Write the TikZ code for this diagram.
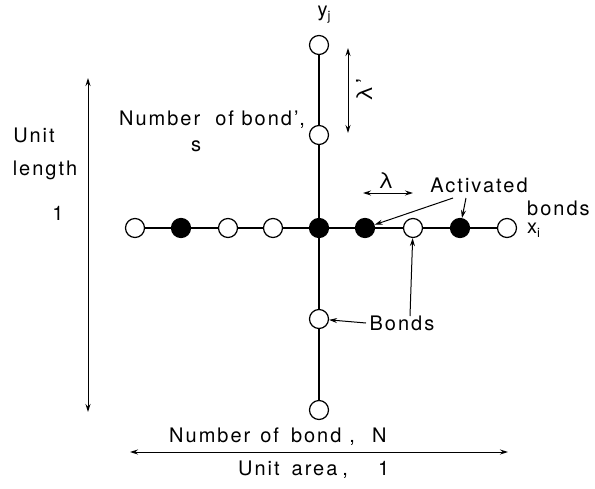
\documentclass[tikz,border=0pt]{standalone}
\usepackage{fontspec}
\setmainfont{TeX Gyre Heros}[LetterSpace=10]
\usetikzlibrary{arrows.meta}
\begin{document}
\begin{tikzpicture}[x=1pt,y=-1pt,
  site/.style={circle,draw,line width=1.2pt,minimum size=19pt,inner sep=0pt,fill=white},
  act/.style={site,fill=black},
  bond/.style={line width=1.2pt},
  arr/.style={line width=1pt,-{Stealth[length=8pt,width=5pt]}},
  darr/.style={line width=1pt,{Stealth[length=8pt,width=5pt]}-{Stealth[length=8pt,width=5pt]}},
  lab/.style={font=\fontsize{20}{22}\selectfont,inner sep=0pt},
  glab/.style={font=\fontsize{22}{24}\selectfont,inner sep=0pt}]
\useasboundingbox (0,0) rectangle (595,488);
% vertical chain
\node[site] (v1) at (319,45) {};
\node[site] (v2) at (319,135) {};
\node[site] (v4) at (319,319) {};
\node[site] (v5) at (319,410) {};
% horizontal chain
\node[site] (h1) at (135,228) {};
\node[act]  (h2) at (181,228) {};
\node[site] (h3) at (228,228) {};
\node[site] (h4) at (273,228) {};
\node[act]  (c)  at (319,228) {};
\node[act]  (h6) at (365,228) {};
\node[site] (h7) at (413,228) {};
\node[act]  (h8) at (460,228) {};
\node[site] (h9) at (507,228) {};
\draw[bond] (v1) -- (v2) -- (c) -- (v4) -- (v5);
\draw[bond] (h1) -- (h2) -- (h3) -- (h4) -- (c) -- (h6) -- (h7) -- (h8) -- (h9);
% labels
\node[lab] (yj) at (324,15) {y{\fontsize{13}{14}\selectfont\raisebox{-4pt}{j}}};
\node[lab,anchor=west] (xi) at (527,230) {x{\fontsize{13}{14}\selectfont\raisebox{-4pt}{i}}};
\node[lab,anchor=west] (bonds) at (527,208) {bonds};
\node[lab] (act) at (479,185) {Activated};
\node[lab] (bl) at (402,323) {Bonds};
\node[lab] (nbs) at (212,120) {Number\ \ of\ bond',};
\node[lab] (s) at (196,146) {s};
\node[lab] (unit) at (34,135) {Unit};
\node[lab] (len) at (45,170) {length};
\node[lab] (one) at (58,213) {1};
\node[lab,anchor=west] (nbn) at (169,437) {Number\hspace{10pt}of\hspace{12pt}bond\hspace{8pt},\hspace{17pt}N};
\node[lab,anchor=west] (ua) at (238,470) {Unit\hspace{12pt}area\hspace{5pt},\hspace{30pt}1};
\node[glab,rotate=90] (lp) at (364,90) {λ'};
\node[glab] (l) at (386,181) {λ};
% arrows
\coordinate (la) at (88,78); \coordinate (lb) at (88,412);
\draw[darr] (la) -- (lb);
\coordinate (ba) at (130,452); \coordinate (bb) at (508,452);
\draw[darr] (ba) -- (bb);
\coordinate (pa) at (348,48); \coordinate (pb) at (348,133);
\draw[darr] (pa) -- (pb);
\coordinate (qa) at (363,193); \coordinate (qb) at (413,193);
\draw[darr] (qa) -- (qb);
\coordinate (a1) at (453,198); \coordinate (a2) at (466,198);
\draw[arr] (a1) -- (h6);
\draw[arr] (a2) -- (h8);
\coordinate (b1) at (410,316);
\draw[arr] (b1) -- (h7);
\coordinate (b2) at (366,323);
\draw[arr] (b2) -- (v4);
\end{tikzpicture}
\end{document}
